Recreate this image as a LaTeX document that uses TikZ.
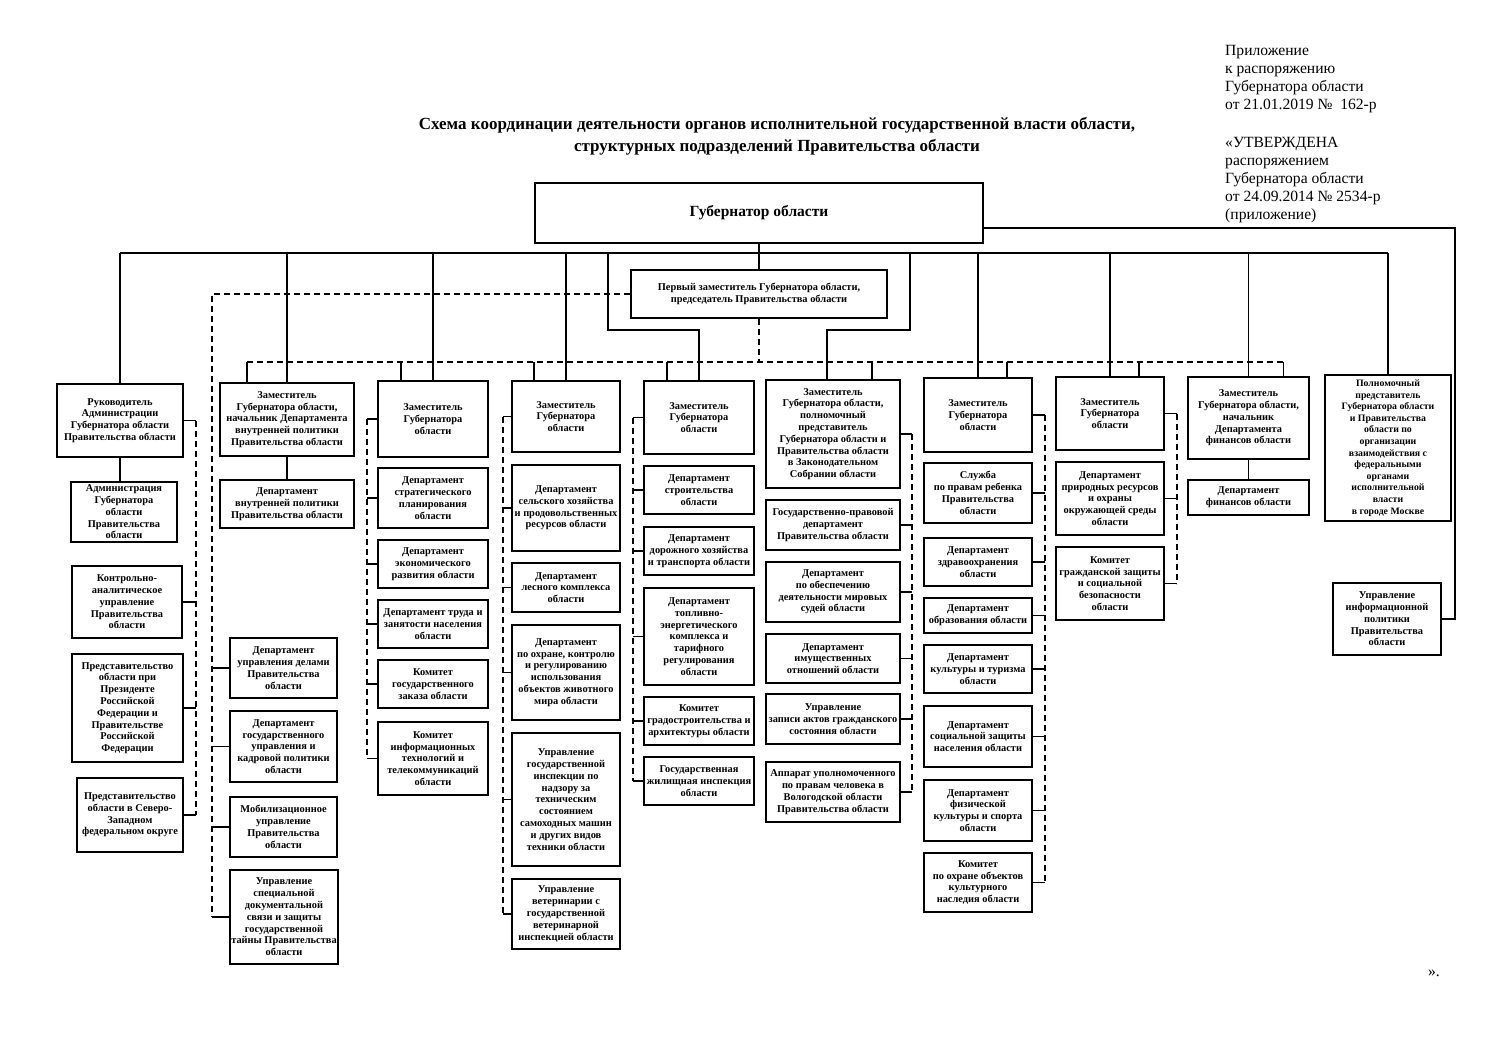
\documentclass[tikz,border=0pt]{standalone}
\usepackage{fontspec}
\setmainfont{Liberation Serif}
\newcommand\Bx[7][]{\node[bx,minimum width={(#5-#3)*1pt},minimum height={(#6-#4)*1pt},#1] (#2) at ({(#3+#5)/2},{(#4+#6)/2}) {#7};}
\newcommand\TW[2]{\draw[ln] (#1.west) -- (#1.west -| #2);}
\newcommand\TE[2]{\draw[ln] (#1.east) -- (#1.east -| #2);}
\newcommand\Drop[2]{\path ([xshift=#2pt]#1.north) coordinate (tp#1); \draw[ln] (tp#1 |- dbL) -- (tp#1);}
\begin{document}
\begin{tikzpicture}[x=1pt,y=-1pt,
  bx/.style={draw,line width=1.4pt,align=center,inner sep=1pt,font=\bfseries\fontsize{10.4}{11.8}\selectfont},
  ln/.style={line width=1.1pt},
  dl/.style={line width=1.6pt,dash pattern=on 6pt off 4pt},
  hdr/.style={anchor=base west,inner sep=0pt,font=\fontsize{15.6}{18}\selectfont},
  ttl/.style={anchor=base,inner sep=0pt,font=\bfseries\fontsize{17}{20}\selectfont}]
\useasboundingbox[fill=white] (0,0) rectangle (1500,1061);

% header texts
\node[hdr] (h1) at (1225,55) {Приложение};
\node[hdr] (h2) at (1225,73) {к распоряжению};
\node[hdr] (h3) at (1225,91) {Губернатора области};
\node[hdr] (h4) at (1225,109) {от 21.01.2019 №\ \ 162-р};
\node[hdr] (h5) at (1225,147) {«УТВЕРЖДЕНА};
\node[hdr] (h6) at (1225,165) {распоряжением};
\node[hdr] (h7) at (1225,183) {Губернатора области};
\node[hdr] (h8) at (1225,201) {от 24.09.2014 № 2534-р};
\node[hdr] (h9) at (1225,219) {(приложение)};
\node[ttl] (t1) at (777,129) {Схема координации деятельности органов исполнительной государственной власти области,};
\node[ttl] (t2) at (777,151) {структурных подразделений Правительства области};
\node[font=\fontsize{15.6}{18}\selectfont] (q) at (1434,973) {».};

% top
\Bx[font=\bfseries\fontsize{15.5}{18}\selectfont]{gov}{535}{183}{983}{243}{Губернатор области}
\Bx[font=\bfseries\fontsize{10.4}{12}\selectfont]{fd}{631}{270}{887}{318}{Первый заместитель Губернатора области,\\председатель Правительства области}

% column 1
\Bx{c1}{57}{384}{183}{457}{Руководитель\\Администрации\\Губернатора области\\Правительства области}
\Bx{c1a}{71}{482}{177}{542}{Администрация\\Губернатора\\области\\Правительства\\области}
\Bx{c1b}{72}{566}{182}{638}{Контрольно-\\аналитическое\\управление\\Правительства\\области}
\Bx{c1c}{72}{654}{183}{762}{Представительство\\области при\\Президенте\\Российской\\Федерации и\\Правительстве\\Российской\\Федерации}
\Bx{c1d}{77}{778}{183}{852}{Представительство\\области в Северо-\\Западном\\федеральном округе}

% column 2
\Bx{c2}{220}{383}{354}{456}{Заместитель\\Губернатора области,\\начальник Департамента\\внутренней политики\\Правительства области}
\Bx{c2a}{220}{480}{354}{528}{Департамент\\внутренней политики\\Правительства области}
\Bx{c2b}{230}{638}{337}{698}{Департамент\\управления делами\\Правительства\\области}
\Bx{c2c}{230}{711}{337}{782}{Департамент\\государственного\\управления и\\кадровой политики\\области}
\Bx{c2d}{230}{797}{337}{857}{Мобилизационное\\управление\\Правительства\\области}
\Bx{c2e}{230}{870}{338}{964}{Управление\\специальной\\документальной\\связи и защиты\\государственной\\тайны Правительства\\области}

% column 3
\Bx{c3}{378}{381}{488}{457}{Заместитель\\Губернатора\\области}
\Bx{c3a}{378}{468}{488}{528}{Департамент\\стратегического\\планирования\\области}
\Bx{c3b}{378}{540}{488}{588}{Департамент\\экономического\\развития области}
\Bx{c3c}{378}{600}{488}{648}{Департамент труда и\\занятости населения\\области}
\Bx{c3d}{378}{660}{488}{708}{Комитет\\государственного\\заказа области}
\Bx{c3e}{378}{722}{488}{795}{Комитет\\информационных\\технологий и\\телекоммуникаций\\области}

% column 4
\Bx{c4}{512}{381}{620}{452}{Заместитель\\Губернатора\\области}
\Bx{c4a}{512}{465}{620}{551}{Департамент\\сельского хозяйства\\и продовольственных\\ресурсов области}
\Bx{c4b}{512}{563}{620}{612}{Департамент\\лесного комплекса\\области}
\Bx{c4c}{512}{625}{620}{720}{Департамент\\по охране, контролю\\и регулированию\\использования\\объектов животного\\мира области}
\Bx{c4d}{512}{733}{620}{866}{Управление\\государственной\\инспекции по\\надзору за\\техническим\\состоянием\\самоходных машин\\и других видов\\техники области}
\Bx{c4e}{512}{879}{620}{949}{Управление\\ветеринарии с\\государственной\\ветеринарной\\инспекцией области}

% column 5
\Bx{c5}{644}{381}{754}{454}{Заместитель\\Губернатора\\области}
\Bx{c5a}{644}{466}{754}{514}{Департамент\\строительства\\области}
\Bx{c5b}{644}{527}{754}{575}{Департамент\\дорожного хозяйства\\и транспорта области}
\Bx{c5c}{644}{588}{754}{685}{Департамент\\топливно-\\энергетического\\комплекса и\\тарифного\\регулирования\\области}
\Bx{c5d}{644}{697}{754}{745}{Комитет\\градостроительства и\\архитектуры области}
\Bx{c5e}{644}{757}{754}{805}{Государственная\\жилищная инспекция\\области}

% column 6
\Bx{c6}{766}{380}{900}{488}{Заместитель\\Губернатора области,\\полномочный\\представитель\\Губернатора области и\\Правительства области\\в Законодательном\\Собрании области}
\Bx{c6a}{766}{500}{900}{550}{Государственно-правовой\\департамент\\Правительства области}
\Bx{c6b}{766}{562}{900}{622}{Департамент\\по обеспечению\\деятельности мировых\\судей области}
\Bx{c6c}{766}{634}{900}{683}{Департамент\\имущественных\\отношений области}
\Bx{c6d}{766}{694}{900}{744}{Управление\\записи актов гражданского\\состояния области}
\Bx{c6e}{766}{762}{900}{822}{Аппарат уполномоченного\\по правам человека в\\Вологодской области\\Правительства области}

% column 7
\Bx{c7}{924}{378}{1032}{452}{Заместитель\\Губернатора\\области}
\Bx{c7a}{924}{463}{1032}{523}{Служба\\по правам ребенка\\Правительства\\области}
\Bx{c7b}{924}{538}{1032}{586}{Департамент\\здравоохранения\\области}
\Bx{c7c}{924}{598}{1032}{633}{Департамент\\образования области}
\Bx{c7d}{924}{645}{1032}{693}{Департамент\\культуры и туризма\\области}
\Bx{c7e}{924}{706}{1032}{767}{Департамент\\социальной защиты\\населения области}
\Bx{c7f}{924}{780}{1032}{841}{Департамент\\физической\\культуры и спорта\\области}
\Bx{c7g}{924}{853}{1032}{912}{Комитет\\по охране объектов\\культурного\\наследия области}

% column 8
\Bx{c8}{1056}{377}{1164}{450}{Заместитель\\Губернатора\\области}
\Bx{c8a}{1056}{462}{1164}{535}{Департамент\\природных ресурсов\\и охраны\\окружающей среды\\области}
\Bx{c8b}{1056}{547}{1164}{620}{Комитет\\гражданской защиты\\и социальной\\безопасности\\области}

% column 9
\Bx{c9}{1188}{377}{1309}{459}{Заместитель\\Губернатора области,\\начальник\\Департамента\\финансов области}
\Bx{c9a}{1188}{480}{1309}{515}{Департамент\\финансов области}

% column 10
\Bx[font=\bfseries\fontsize{9.8}{11.6}\selectfont]{c10}{1325}{375}{1451}{521}{Полномочный\\представитель\\Губернатора области\\и Правительства\\области по\\организации\\взаимодействия с\\федеральными\\органами\\исполнительной\\власти\\в городе Москве}
\Bx{c10a}{1333}{583}{1441}{655}{Управление\\информационной\\политики\\Правительства\\области}

% ---------- solid subordination lines
\coordinate (bl) at (120,253);
\coordinate (br) at (1388,253);
\draw[ln] (gov.south) -- (fd.north);
\draw[ln] (bl) -- (br);
\foreach \n in {c1,c2,c3,c4,c7,c8,c9,c10}
  {\draw[ln] (\n.north |- bl) -- (\n.north);}
\coordinate (l5) at (608,253);
\coordinate (k5) at (608,330);
\draw[ln] (l5) -- (k5) -| (c5.north);
\coordinate (l6) at (910,253);
\coordinate (k6) at (910,330);
\path ([xshift=-6pt]c6.north) coordinate (n6);
\draw[ln] (l6) -- (k6) -| (n6);
\draw[ln] (c1.south) -- (c1.south |- c1a.north);
\draw[ln] (c2.south) -- (c2a.north);
\draw[ln] (c9.south) -- (c9a.north);
\path ([yshift=-15pt]gov.east) coordinate (ge);
\coordinate (rr) at (1455,228);
\draw[ln] (ge) -- (rr) |- (c10a.east);

% ---------- dashed coordination lines
\coordinate (dbL) at (247,362);
\coordinate (dbR) at (1284,362);
\draw[dl] (dbL) -- (dbR);
\draw[dl] (fd.south) -- (fd.south |- dbL);
\Drop{c2}{-40}
\Drop{c3}{-32}
\Drop{c4}{-32}
\Drop{c5}{-32}
\Drop{c6}{39}
\Drop{c7}{29}
\Drop{c8}{29}
\Drop{c9}{35}

\coordinate (d1) at (196,0);
\coordinate (d2) at (212,0);
\coordinate (d3) at (367,0);
\coordinate (d4) at (503,0);
\coordinate (d5) at (633,0);
\coordinate (d6) at (912,0);
\coordinate (d7) at (1045,0);
\coordinate (d8) at (1177,0);

\draw[dl] (c1.east -| d1) -- (c1d.east -| d1);
\foreach \n in {c1,c1b,c1c,c1d} {\TE{\n}{d1}}
\draw[dl] (fd.west) -| (c2e.west -| d2);
\foreach \n in {c2b,c2c,c2d,c2e} {\TW{\n}{d2}}
\draw[dl] (c3.west -| d3) -- (c3e.west -| d3);
\foreach \n in {c3,c3a,c3b,c3c,c3d,c3e} {\TW{\n}{d3}}
\draw[dl] (c4.west -| d4) -- (c4e.west -| d4);
\foreach \n in {c4,c4a,c4b,c4c,c4d,c4e} {\TW{\n}{d4}}
\draw[dl] (c5.west -| d5) -- (c5e.west -| d5);
\foreach \n in {c5,c5a,c5b,c5c,c5d,c5e} {\TW{\n}{d5}}
\draw[dl] (c6.east -| d6) -- (c6e.east -| d6);
\foreach \n in {c6,c6a,c6b,c6c,c6d,c6e} {\TE{\n}{d6}}
\draw[dl] (c7.east -| d7) -- (c7g.east -| d7);
\foreach \n in {c7,c7a,c7b,c7c,c7d,c7e,c7f,c7g} {\TE{\n}{d7}}
\draw[dl] (c8.east -| d8) -- (c8b.east -| d8);
\foreach \n in {c8,c8a,c8b} {\TE{\n}{d8}}
\end{tikzpicture}
\end{document}
